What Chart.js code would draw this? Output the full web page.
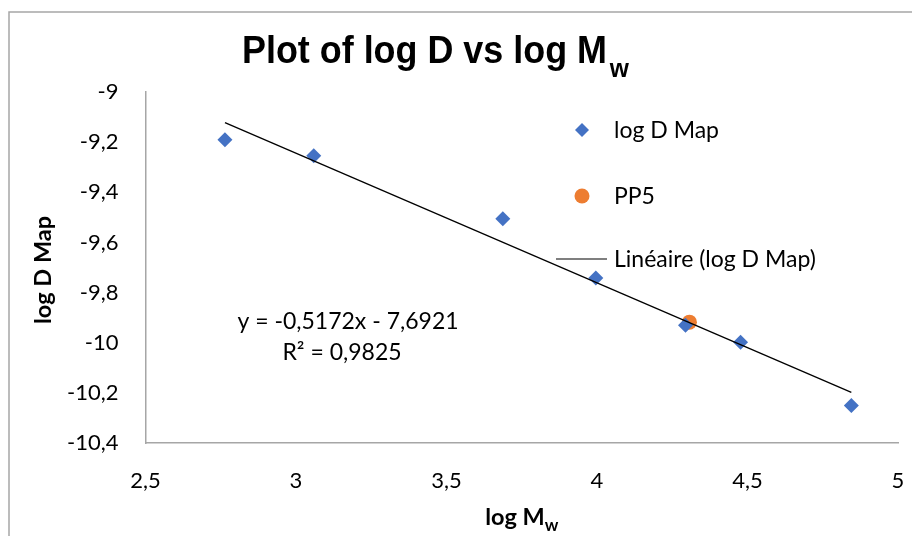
<!DOCTYPE html>
<html>
<head>
<meta charset="utf-8">
<script src="https://cdn.jsdelivr.net/npm/chart.js@4.4.0/dist/chart.umd.min.js"></script>
<style>
  html, body { margin: 0; padding: 0; background: #fff; }
  #wrap { width: 912px; height: 536px; position: relative; }
</style>
</head>
<body>
<div id="wrap"><canvas id="myChart" width="912" height="536"></canvas></div>
<script>
// values
const logMw = [2.764, 3.059, 3.687, 3.996, 4.294, 4.477, 4.845];
const logDMap = [-9.190, -9.254, -9.506, -9.742, -9.930, -9.998, -10.250];
const pp5X = [4.307];
const pp5Y = [-9.918];
// trendline end points (Linéaire)
const trendX = [2.764, 4.845];
const trendY = [-9.122, -10.198];
const xTicks = [2.5, 3, 3.5, 4, 4.5, 5];
const yTicks = [-9, -9.2, -9.4, -9.6, -9.8, -10, -10.2, -10.4];
const equationLines = ['y = -0,5172x - 7,6921', 'R\u00b2 = 0,9825'];

const BLUE = '#4472C4';
const ORANGE = '#ED7D31';
const FONT = 'Lato, "Open Sans", sans-serif';

function toPoints(xs, ys) {
    return xs.map((x, i) => ({ x: x, y: ys[i] }));
}

function fmt(v) {
    return String(Math.round(v * 10) / 10).replace('.', ',');
}

// draws title, axis titles, legend, equation and outer frame
const decorations = {
    id: 'decorations',
    afterDraw(chart) {
        const ctx = chart.ctx;
        ctx.save();

        // outer frame
        ctx.strokeStyle = '#a6a6a6';
        ctx.lineWidth = 1.5;
        ctx.strokeRect(9, 12, 1000, 1000);

        // title with subscript, condensed like the original
        ctx.fillStyle = '#000';
        ctx.textBaseline = 'alphabetic';
        ctx.textAlign = 'left';
        ctx.font = 'bold 38px "Liberation Sans", Arial, sans-serif';
        const main = 'Plot of log D vs log M';
        const sx = 365 / ctx.measureText(main).width;
        ctx.save();
        ctx.translate(242, 63);
        ctx.scale(sx, 1);
        ctx.fillText(main, 0, 0);
        const mw = ctx.measureText(main).width;
        ctx.font = 'bold 26px "Liberation Sans", Arial, sans-serif';
        ctx.fillText('w', mw + 3, 14);
        ctx.restore();

        // y axis title
        ctx.font = 'bold 23.5px ' + FONT;
        ctx.save();
        ctx.translate(43, 270);
        ctx.rotate(-Math.PI / 2);
        ctx.textAlign = 'center';
        ctx.textBaseline = 'middle';
        ctx.fillText('log D Map', 0, 0);
        ctx.restore();

        // x axis title with subscript
        const area = chart.chartArea;
        const cx = (area.left + area.right) / 2;
        ctx.font = 'bold 23.5px ' + FONT;
        const w1 = ctx.measureText('log M').width;
        ctx.font = 'bold 17px ' + FONT;
        const w2 = ctx.measureText('w').width;
        let startX = cx - (w1 + w2) / 2;
        ctx.textAlign = 'left';
        ctx.textBaseline = 'alphabetic';
        ctx.font = 'bold 23.5px ' + FONT;
        ctx.fillText('log M', startX, 525);
        ctx.font = 'bold 17px ' + FONT;
        ctx.fillText('w', startX + w1, 531);

        // legend
        ctx.font = '23px ' + FONT;
        ctx.textBaseline = 'middle';
        ctx.fillStyle = BLUE;
        ctx.beginPath();
        ctx.moveTo(582, 123); ctx.lineTo(589, 130); ctx.lineTo(582, 137); ctx.lineTo(575, 130);
        ctx.closePath();
        ctx.fill();
        ctx.fillStyle = ORANGE;
        ctx.beginPath();
        ctx.arc(582, 196, 7.5, 0, Math.PI * 2);
        ctx.fill();
        ctx.strokeStyle = '#000';
        ctx.lineWidth = 1.2;
        ctx.beginPath();
        ctx.moveTo(556, 259); ctx.lineTo(607, 259);
        ctx.stroke();
        ctx.fillStyle = '#000';
        ctx.fillText('log D Map', 614, 131);
        ctx.fillText('PP5', 614, 197);
        ctx.fillText('Lin\u00e9aire (log D Map)', 614, 260);

        // trendline equation
        ctx.font = '23px ' + FONT;
        ctx.textAlign = 'center';
        ctx.fillText(equationLines[0], 348, 322);
        ctx.fillText(equationLines[1], 342, 353);

        ctx.restore();
    }
};

const ctx = document.getElementById('myChart').getContext('2d');

const chart = new Chart(ctx, {
    type: 'scatter',
    data: {
        datasets: [
            {
                label: 'Linéaire (log D Map)',
                type: 'line',
                data: toPoints(trendX, trendY),
                borderColor: '#000',
                borderWidth: 1.3,
                pointRadius: 0,
                fill: false
            },
            {
                label: 'log D Map',
                data: toPoints(logMw, logDMap),
                pointStyle: 'rectRot',
                pointRadius: 7.5,
                backgroundColor: BLUE,
                borderColor: BLUE,
                borderWidth: 0
            },
            {
                label: 'PP5',
                data: toPoints(pp5X, pp5Y),
                pointStyle: 'circle',
                pointRadius: 7.5,
                backgroundColor: ORANGE,
                borderColor: ORANGE,
                borderWidth: 0
            }
        ]
    },
    options: {
        responsive: false,
        animation: false,
        layout: { padding: { left: 0, top: 92, right: 14, bottom: 0 } },
        plugins: {
            legend: { display: false },
            title: { display: false },
            tooltip: { enabled: false }
        },
        scales: {
            x: {
                type: 'linear',
                min: 2.5,
                max: 5,
                afterFit(scale) {
                    scale.height = 93;
                    scale.paddingLeft = 0;
                    scale.paddingRight = 0;
                },
                afterBuildTicks(scale) { scale.ticks = xTicks.map(v => ({ value: v })); },
                grid: { display: false, drawTicks: false },
                border: { display: true, color: '#a6a6a6', width: 1.5 },
                ticks: {
                    padding: 25,
                    color: '#000',
                    font: { family: FONT, size: 22 },
                    callback: (v) => fmt(v)
                }
            },
            y: {
                type: 'linear',
                min: -10.4,
                max: -9,
                afterFit(scale) {
                    scale.width = 145.5;
                    scale.paddingTop = 0;
                    scale.paddingBottom = 0;
                },
                afterBuildTicks(scale) { scale.ticks = yTicks.map(v => ({ value: v })); },
                grid: { display: false, drawTicks: false },
                border: { display: true, color: '#a6a6a6', width: 1.5 },
                ticks: {
                    padding: 27,
                    color: '#000',
                    font: { family: FONT, size: 22 },
                    callback: (v) => fmt(v)
                }
            }
        }
    },
    plugins: [decorations]
});
</script>
</body>
</html>
